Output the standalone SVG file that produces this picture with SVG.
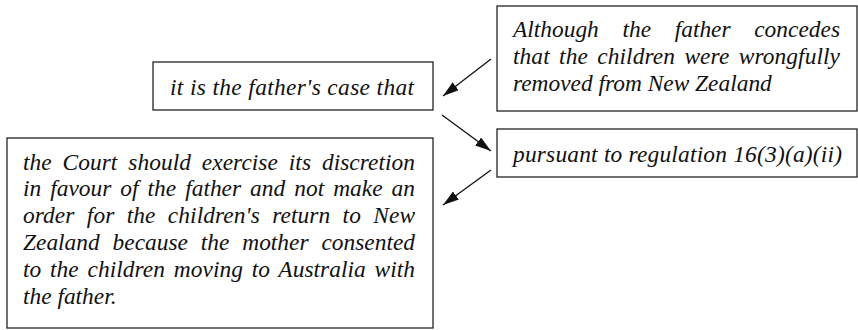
<svg xmlns="http://www.w3.org/2000/svg" width="858" height="330" viewBox="0 0 858 330">
  <defs>
    <style>
      .box { fill: #ffffff; stroke: #222222; stroke-width: 1.3; }
      .conn { stroke: #111111; stroke-width: 1.3; fill: none; marker-end: url(#head); }
    </style>
    <marker id="head" viewBox="0 0 16 10" refX="16" refY="5" markerWidth="16" markerHeight="10" markerUnits="userSpaceOnUse" orient="auto">
      <path d="M0,0 L16,5 L0,10 z" fill="#111111"/>
    </marker>
  </defs>

  <rect width="858" height="330" fill="#ffffff"/>

  <!-- all box text: serif italic; justified lines use word-spacing plus textLength -->
  <g font-family="'Liberation Serif', 'Times New Roman', serif" font-style="italic" font-size="23.4" fill="#111111">

    <!-- concession -->
    <g id="concession">
      <rect class="box" x="497" y="6" width="360" height="105"/>
      <text x="513" y="37" word-spacing="17.8" textLength="327" lengthAdjust="spacing">Although the father concedes</text>
      <text x="513" y="63.8" word-spacing="3.4" textLength="327" lengthAdjust="spacing">that the children were wrongfully</text>
      <text x="513" y="90.6">removed from New Zealand</text>
    </g>

    <!-- fathers case -->
    <g id="fathers-case">
      <rect class="box" x="153" y="62" width="280" height="48"/>
      <text x="170" y="95" textLength="244" lengthAdjust="spacing">it is the father's case that</text>
    </g>

    <!-- regulation -->
    <g id="regulation">
      <rect class="box" x="497" y="129" width="360" height="48"/>
      <text x="513" y="162" textLength="329" lengthAdjust="spacing">pursuant to regulation 16(3)(a)(ii)</text>
    </g>

    <!-- claim -->
    <g id="claim">
      <rect class="box" x="7" y="138" width="426" height="190"/>
      <text x="23" y="169.5" word-spacing="4.95" textLength="392" lengthAdjust="spacing">the Court should exercise its discretion</text>
      <text x="23" y="196.3" word-spacing="3.2" textLength="392" lengthAdjust="spacing">in favour of the father and not make an</text>
      <text x="23" y="223.1" word-spacing="6.4" textLength="392" lengthAdjust="spacing">order for the children's return to New</text>
      <text x="23" y="249.9" word-spacing="7.0" textLength="392" lengthAdjust="spacing">Zealand because the mother consented</text>
      <text x="23" y="276.7" word-spacing="2.9" textLength="392" lengthAdjust="spacing">to the children moving to Australia with</text>
      <text x="23" y="303.5">the father.</text>
    </g>
  </g>

  <!-- connectors -->
  <g id="connectors">
    <line class="conn" x1="491" y1="59" x2="443" y2="96"/>
    <line class="conn" x1="442" y1="115" x2="491" y2="151"/>
    <line class="conn" x1="491" y1="170" x2="443" y2="205"/>
  </g>
</svg>
